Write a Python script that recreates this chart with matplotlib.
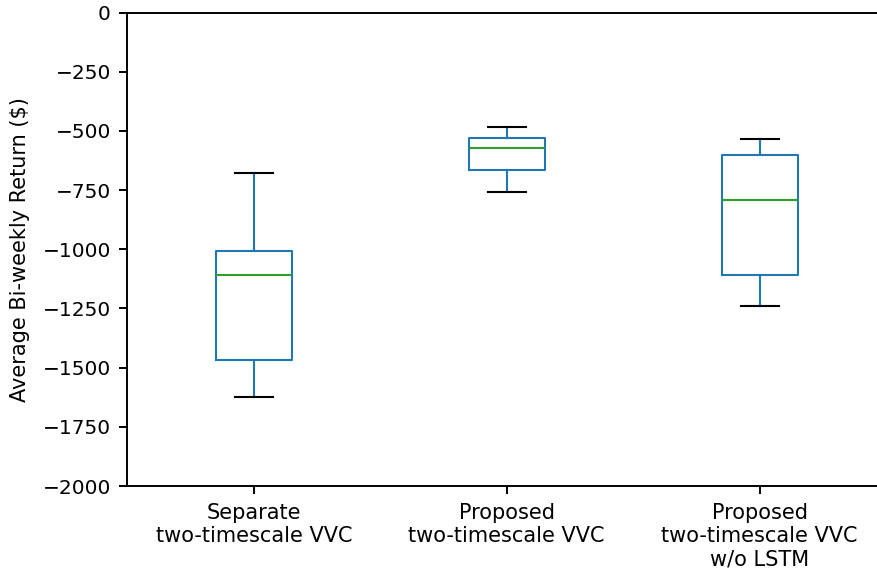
import matplotlib
matplotlib.use('Agg')
import matplotlib.pyplot as plt

labels = ['Separate\ntwo-timescale VVC',
          'Proposed\ntwo-timescale VVC',
          'Proposed\ntwo-timescale VVC\nw/o LSTM']
whislo = [-1625, -760, -1238]
q1 = [-1469, -667, -1110]
med = [-1110, -574, -793]
q3 = [-1006, -529, -603]
whishi = [-679, -482, -534]

stats = []
for i in range(len(labels)):
    stats.append(dict(label=labels[i], whislo=whislo[i], q1=q1[i], med=med[i],
                      q3=q3[i], whishi=whishi[i], fliers=[]))

plt.rcParams['font.size'] = 15
plt.rcParams['axes.linewidth'] = 1.4
fig = plt.figure(figsize=(8.78, 5.69), dpi=100)
ax = fig.add_axes([127.5 / 878, 1 - 486 / 569, 758.5 / 878, 473.5 / 569])

blue = '#1f77b4'
ax.bxp(stats, widths=0.3,
       boxprops=dict(color=blue, linewidth=1.5),
       whiskerprops=dict(color=blue, linewidth=1.5),
       capprops=dict(color='black', linewidth=1.5),
       medianprops=dict(color='#2ca02c', linewidth=1.5))

ax.set_ylim(-2000, 0)
ax.set_xlim(0.5, 3.5)
ax.spines['right'].set_visible(False)
ax.tick_params(length=6, width=1.4, pad=6)
ax.tick_params(axis='y', labelsize=14.5)
ax.set_ylabel('Average Bi-weekly Return ($)', labelpad=9)

fig.savefig('out.png', dpi=100)
